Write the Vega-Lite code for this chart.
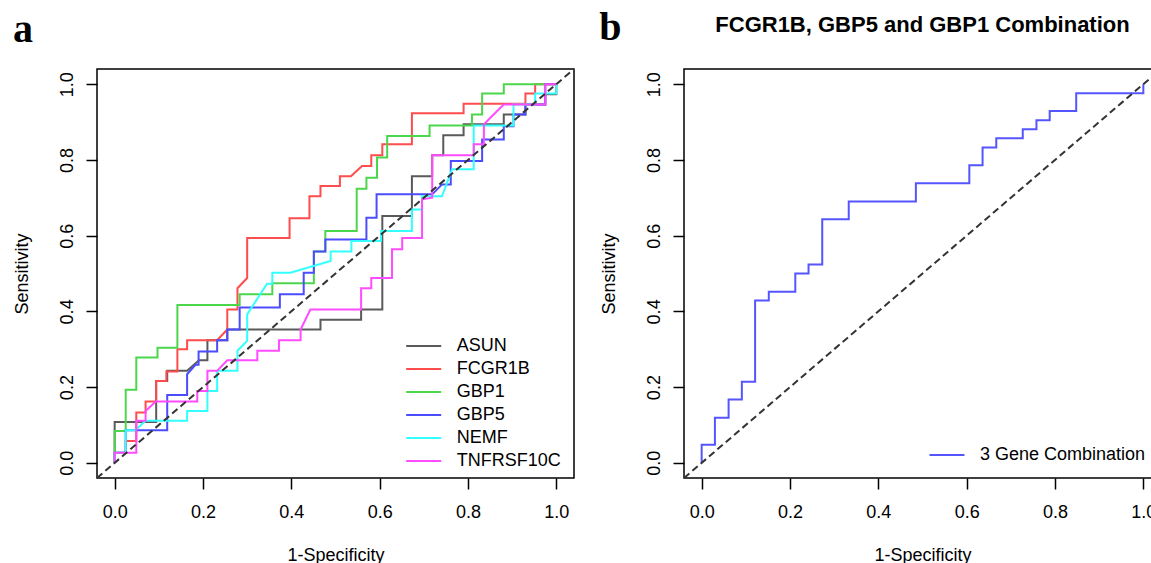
{
"$schema": "https://vega.github.io/schema/vega-lite/v6.json",
"background": "white",
"padding": {"left": 12, "top": 8, "right": 0, "bottom": 0},
"config": {
  "font": "Liberation Sans",
  "view": {"stroke": "black", "strokeWidth": 1.5},
  "axis": {"grid": false, "domain": false, "tickColor": "black", "tickWidth": 1.5, "tickSize": 11, "labelFont": "Liberation Sans", "labelFontSize": 18, "labelColor": "black", "titleFont": "Liberation Sans", "titleFontSize": 18, "titleFontWeight": "normal", "titleColor": "black", "labelOverlap": false, "labelFlush": false},
  "axisX": {"labelBaseline": "alphabetic", "labelPadding": 28, "titleBaseline": "alphabetic", "titleAlign": "center", "titleX": 238.5, "titleY": 82},
  "axisY": {"labelAngle": 270, "labelAlign": "center", "labelBaseline": "alphabetic", "labelPadding": 14, "titleAngle": 270, "titleBaseline": "alphabetic", "titleAlign": "center", "titleX": -70, "titleY": 204.5},
  "legend": {"title": null, "symbolType": "M-2.333,0H2.333", "symbolSize": 225, "symbolStrokeWidth": 2, "labelFont": "Liberation Sans", "labelFontSize": 18, "labelColor": "black", "labelBaseline": "middle", "labelLimit": 0, "padding": 0, "rowPadding": 5, "labelOffset": 24}
},
"datasets": {
  "diag": [{"x": -0.04, "y": -0.04}, {"x": 1.04, "y": 1.04}],
  "combo": [
    {"g":"3 Gene Combination","i":0,"x":0,"y":0},{"g":"3 Gene Combination","i":1,"x":0,"y":0.048},{"g":"3 Gene Combination","i":2,"x":0.03,"y":0.048},{"g":"3 Gene Combination","i":3,"x":0.03,"y":0.119},{"g":"3 Gene Combination","i":4,"x":0.061,"y":0.119},{"g":"3 Gene Combination","i":5,"x":0.061,"y":0.167},{"g":"3 Gene Combination","i":6,"x":0.091,"y":0.167},{"g":"3 Gene Combination","i":7,"x":0.091,"y":0.214},{"g":"3 Gene Combination","i":8,"x":0.121,"y":0.214},{"g":"3 Gene Combination","i":9,"x":0.121,"y":0.429},{"g":"3 Gene Combination","i":10,"x":0.152,"y":0.429},{"g":"3 Gene Combination","i":11,"x":0.152,"y":0.452},{"g":"3 Gene Combination","i":12,"x":0.212,"y":0.452},{"g":"3 Gene Combination","i":13,"x":0.212,"y":0.5},{"g":"3 Gene Combination","i":14,"x":0.242,"y":0.5},{"g":"3 Gene Combination","i":15,"x":0.242,"y":0.524},{"g":"3 Gene Combination","i":16,"x":0.273,"y":0.524},{"g":"3 Gene Combination","i":17,"x":0.273,"y":0.643},{"g":"3 Gene Combination","i":18,"x":0.333,"y":0.643},{"g":"3 Gene Combination","i":19,"x":0.333,"y":0.69},{"g":"3 Gene Combination","i":20,"x":0.485,"y":0.69},{"g":"3 Gene Combination","i":21,"x":0.485,"y":0.738},{"g":"3 Gene Combination","i":22,"x":0.606,"y":0.738},{"g":"3 Gene Combination","i":23,"x":0.606,"y":0.786},{"g":"3 Gene Combination","i":24,"x":0.636,"y":0.786},{"g":"3 Gene Combination","i":25,"x":0.636,"y":0.833},{"g":"3 Gene Combination","i":26,"x":0.667,"y":0.833},{"g":"3 Gene Combination","i":27,"x":0.667,"y":0.857},{"g":"3 Gene Combination","i":28,"x":0.727,"y":0.857},{"g":"3 Gene Combination","i":29,"x":0.727,"y":0.881},{"g":"3 Gene Combination","i":30,"x":0.758,"y":0.881},{"g":"3 Gene Combination","i":31,"x":0.758,"y":0.905},{"g":"3 Gene Combination","i":32,"x":0.788,"y":0.905},{"g":"3 Gene Combination","i":33,"x":0.788,"y":0.929},{"g":"3 Gene Combination","i":34,"x":0.848,"y":0.929},{"g":"3 Gene Combination","i":35,"x":0.848,"y":0.976},{"g":"3 Gene Combination","i":36,"x":1,"y":0.976},{"g":"3 Gene Combination","i":37,"x":1,"y":1}
  ],
  "genes": [
    {"g":"ASUN","i":0,"x":0,"y":0},{"g":"ASUN","i":1,"x":0,"y":0.108},{"g":"ASUN","i":2,"x":0.094,"y":0.108},{"g":"ASUN","i":3,"x":0.094,"y":0.216},{"g":"ASUN","i":4,"x":0.119,"y":0.216},{"g":"ASUN","i":5,"x":0.119,"y":0.243},{"g":"ASUN","i":6,"x":0.164,"y":0.243},{"g":"ASUN","i":7,"x":0.191,"y":0.271},{"g":"ASUN","i":8,"x":0.21,"y":0.271},{"g":"ASUN","i":9,"x":0.21,"y":0.324},{"g":"ASUN","i":10,"x":0.255,"y":0.324},{"g":"ASUN","i":11,"x":0.255,"y":0.352},{"g":"ASUN","i":12,"x":0.466,"y":0.352},{"g":"ASUN","i":13,"x":0.466,"y":0.378},{"g":"ASUN","i":14,"x":0.558,"y":0.378},{"g":"ASUN","i":15,"x":0.558,"y":0.405},{"g":"ASUN","i":16,"x":0.606,"y":0.405},{"g":"ASUN","i":17,"x":0.606,"y":0.652},{"g":"ASUN","i":18,"x":0.673,"y":0.652},{"g":"ASUN","i":19,"x":0.673,"y":0.757},{"g":"ASUN","i":20,"x":0.719,"y":0.757},{"g":"ASUN","i":21,"x":0.719,"y":0.812},{"g":"ASUN","i":22,"x":0.744,"y":0.812},{"g":"ASUN","i":23,"x":0.744,"y":0.865},{"g":"ASUN","i":24,"x":0.79,"y":0.865},{"g":"ASUN","i":25,"x":0.79,"y":0.894},{"g":"ASUN","i":26,"x":0.881,"y":0.894},{"g":"ASUN","i":27,"x":0.881,"y":0.92},{"g":"ASUN","i":28,"x":0.93,"y":0.92},{"g":"ASUN","i":29,"x":0.93,"y":0.946},{"g":"ASUN","i":30,"x":0.975,"y":0.946},{"g":"ASUN","i":31,"x":0.975,"y":0.973},{"g":"ASUN","i":32,"x":1,"y":0.973},{"g":"ASUN","i":33,"x":1,"y":1},
    {"g":"FCGR1B","i":0,"x":0,"y":0},{"g":"FCGR1B","i":1,"x":0,"y":0.027},{"g":"FCGR1B","i":2,"x":0.025,"y":0.027},{"g":"FCGR1B","i":3,"x":0.025,"y":0.058},{"g":"FCGR1B","i":4,"x":0.049,"y":0.058},{"g":"FCGR1B","i":5,"x":0.049,"y":0.133},{"g":"FCGR1B","i":6,"x":0.07,"y":0.133},{"g":"FCGR1B","i":7,"x":0.07,"y":0.162},{"g":"FCGR1B","i":8,"x":0.094,"y":0.162},{"g":"FCGR1B","i":9,"x":0.094,"y":0.216},{"g":"FCGR1B","i":10,"x":0.117,"y":0.216},{"g":"FCGR1B","i":11,"x":0.117,"y":0.241},{"g":"FCGR1B","i":12,"x":0.142,"y":0.241},{"g":"FCGR1B","i":13,"x":0.142,"y":0.3},{"g":"FCGR1B","i":14,"x":0.164,"y":0.3},{"g":"FCGR1B","i":15,"x":0.164,"y":0.324},{"g":"FCGR1B","i":16,"x":0.232,"y":0.324},{"g":"FCGR1B","i":17,"x":0.255,"y":0.352},{"g":"FCGR1B","i":18,"x":0.255,"y":0.405},{"g":"FCGR1B","i":19,"x":0.278,"y":0.405},{"g":"FCGR1B","i":20,"x":0.278,"y":0.461},{"g":"FCGR1B","i":21,"x":0.3,"y":0.488},{"g":"FCGR1B","i":22,"x":0.3,"y":0.594},{"g":"FCGR1B","i":23,"x":0.396,"y":0.594},{"g":"FCGR1B","i":24,"x":0.396,"y":0.646},{"g":"FCGR1B","i":25,"x":0.441,"y":0.646},{"g":"FCGR1B","i":26,"x":0.441,"y":0.704},{"g":"FCGR1B","i":27,"x":0.466,"y":0.704},{"g":"FCGR1B","i":28,"x":0.466,"y":0.731},{"g":"FCGR1B","i":29,"x":0.51,"y":0.731},{"g":"FCGR1B","i":30,"x":0.51,"y":0.757},{"g":"FCGR1B","i":31,"x":0.535,"y":0.757},{"g":"FCGR1B","i":32,"x":0.56,"y":0.784},{"g":"FCGR1B","i":33,"x":0.581,"y":0.784},{"g":"FCGR1B","i":34,"x":0.581,"y":0.812},{"g":"FCGR1B","i":35,"x":0.606,"y":0.812},{"g":"FCGR1B","i":36,"x":0.606,"y":0.841},{"g":"FCGR1B","i":37,"x":0.673,"y":0.841},{"g":"FCGR1B","i":38,"x":0.673,"y":0.923},{"g":"FCGR1B","i":39,"x":0.79,"y":0.923},{"g":"FCGR1B","i":40,"x":0.79,"y":0.948},{"g":"FCGR1B","i":41,"x":0.93,"y":0.948},{"g":"FCGR1B","i":42,"x":0.93,"y":0.975},{"g":"FCGR1B","i":43,"x":0.952,"y":0.975},{"g":"FCGR1B","i":44,"x":0.952,"y":1},{"g":"FCGR1B","i":45,"x":1,"y":1},
    {"g":"GBP1","i":0,"x":0,"y":0},{"g":"GBP1","i":1,"x":0,"y":0.084},{"g":"GBP1","i":2,"x":0.025,"y":0.084},{"g":"GBP1","i":3,"x":0.025,"y":0.193},{"g":"GBP1","i":4,"x":0.049,"y":0.193},{"g":"GBP1","i":5,"x":0.049,"y":0.278},{"g":"GBP1","i":6,"x":0.097,"y":0.278},{"g":"GBP1","i":7,"x":0.097,"y":0.304},{"g":"GBP1","i":8,"x":0.142,"y":0.304},{"g":"GBP1","i":9,"x":0.142,"y":0.417},{"g":"GBP1","i":10,"x":0.283,"y":0.417},{"g":"GBP1","i":11,"x":0.283,"y":0.445},{"g":"GBP1","i":12,"x":0.357,"y":0.445},{"g":"GBP1","i":13,"x":0.357,"y":0.474},{"g":"GBP1","i":14,"x":0.451,"y":0.474},{"g":"GBP1","i":15,"x":0.451,"y":0.558},{"g":"GBP1","i":16,"x":0.477,"y":0.558},{"g":"GBP1","i":17,"x":0.477,"y":0.612},{"g":"GBP1","i":18,"x":0.548,"y":0.612},{"g":"GBP1","i":19,"x":0.548,"y":0.724},{"g":"GBP1","i":20,"x":0.57,"y":0.724},{"g":"GBP1","i":21,"x":0.57,"y":0.753},{"g":"GBP1","i":22,"x":0.594,"y":0.753},{"g":"GBP1","i":23,"x":0.594,"y":0.806},{"g":"GBP1","i":24,"x":0.617,"y":0.806},{"g":"GBP1","i":25,"x":0.617,"y":0.863},{"g":"GBP1","i":26,"x":0.713,"y":0.863},{"g":"GBP1","i":27,"x":0.713,"y":0.891},{"g":"GBP1","i":28,"x":0.809,"y":0.891},{"g":"GBP1","i":29,"x":0.809,"y":0.92},{"g":"GBP1","i":30,"x":0.832,"y":0.92},{"g":"GBP1","i":31,"x":0.832,"y":0.975},{"g":"GBP1","i":32,"x":0.881,"y":0.975},{"g":"GBP1","i":33,"x":0.881,"y":1},{"g":"GBP1","i":34,"x":1,"y":1},
    {"g":"GBP5","i":0,"x":0,"y":0},{"g":"GBP5","i":1,"x":0,"y":0.027},{"g":"GBP5","i":2,"x":0.025,"y":0.027},{"g":"GBP5","i":3,"x":0.025,"y":0.086},{"g":"GBP5","i":4,"x":0.119,"y":0.086},{"g":"GBP5","i":5,"x":0.119,"y":0.179},{"g":"GBP5","i":6,"x":0.164,"y":0.179},{"g":"GBP5","i":7,"x":0.164,"y":0.234},{"g":"GBP5","i":8,"x":0.183,"y":0.259},{"g":"GBP5","i":9,"x":0.19,"y":0.259},{"g":"GBP5","i":10,"x":0.19,"y":0.294},{"g":"GBP5","i":11,"x":0.232,"y":0.294},{"g":"GBP5","i":12,"x":0.232,"y":0.324},{"g":"GBP5","i":13,"x":0.255,"y":0.324},{"g":"GBP5","i":14,"x":0.255,"y":0.352},{"g":"GBP5","i":15,"x":0.283,"y":0.352},{"g":"GBP5","i":16,"x":0.283,"y":0.41},{"g":"GBP5","i":17,"x":0.374,"y":0.41},{"g":"GBP5","i":18,"x":0.374,"y":0.445},{"g":"GBP5","i":19,"x":0.428,"y":0.445},{"g":"GBP5","i":20,"x":0.428,"y":0.502},{"g":"GBP5","i":21,"x":0.451,"y":0.502},{"g":"GBP5","i":22,"x":0.451,"y":0.558},{"g":"GBP5","i":23,"x":0.477,"y":0.558},{"g":"GBP5","i":24,"x":0.477,"y":0.59},{"g":"GBP5","i":25,"x":0.57,"y":0.59},{"g":"GBP5","i":26,"x":0.57,"y":0.647},{"g":"GBP5","i":27,"x":0.593,"y":0.647},{"g":"GBP5","i":28,"x":0.593,"y":0.709},{"g":"GBP5","i":29,"x":0.719,"y":0.709},{"g":"GBP5","i":30,"x":0.741,"y":0.735},{"g":"GBP5","i":31,"x":0.761,"y":0.735},{"g":"GBP5","i":32,"x":0.761,"y":0.797},{"g":"GBP5","i":33,"x":0.832,"y":0.797},{"g":"GBP5","i":34,"x":0.832,"y":0.854},{"g":"GBP5","i":35,"x":0.881,"y":0.854},{"g":"GBP5","i":36,"x":0.881,"y":0.889},{"g":"GBP5","i":37,"x":0.903,"y":0.889},{"g":"GBP5","i":38,"x":0.903,"y":0.92},{"g":"GBP5","i":39,"x":0.93,"y":0.92},{"g":"GBP5","i":40,"x":0.93,"y":0.946},{"g":"GBP5","i":41,"x":0.975,"y":0.946},{"g":"GBP5","i":42,"x":0.975,"y":1},{"g":"GBP5","i":43,"x":1,"y":1},
    {"g":"NEMF","i":0,"x":0,"y":0},{"g":"NEMF","i":1,"x":0,"y":0.027},{"g":"NEMF","i":2,"x":0.025,"y":0.027},{"g":"NEMF","i":3,"x":0.025,"y":0.086},{"g":"NEMF","i":4,"x":0.047,"y":0.086},{"g":"NEMF","i":5,"x":0.07,"y":0.111},{"g":"NEMF","i":6,"x":0.164,"y":0.111},{"g":"NEMF","i":7,"x":0.164,"y":0.137},{"g":"NEMF","i":8,"x":0.21,"y":0.137},{"g":"NEMF","i":9,"x":0.21,"y":0.19},{"g":"NEMF","i":10,"x":0.232,"y":0.19},{"g":"NEMF","i":11,"x":0.232,"y":0.243},{"g":"NEMF","i":12,"x":0.278,"y":0.243},{"g":"NEMF","i":13,"x":0.278,"y":0.296},{"g":"NEMF","i":14,"x":0.3,"y":0.322},{"g":"NEMF","i":15,"x":0.3,"y":0.392},{"g":"NEMF","i":16,"x":0.345,"y":0.473},{"g":"NEMF","i":17,"x":0.357,"y":0.473},{"g":"NEMF","i":18,"x":0.357,"y":0.502},{"g":"NEMF","i":19,"x":0.398,"y":0.502},{"g":"NEMF","i":20,"x":0.489,"y":0.533},{"g":"NEMF","i":21,"x":0.489,"y":0.558},{"g":"NEMF","i":22,"x":0.536,"y":0.558},{"g":"NEMF","i":23,"x":0.536,"y":0.586},{"g":"NEMF","i":24,"x":0.603,"y":0.586},{"g":"NEMF","i":25,"x":0.603,"y":0.612},{"g":"NEMF","i":26,"x":0.673,"y":0.612},{"g":"NEMF","i":27,"x":0.673,"y":0.669},{"g":"NEMF","i":28,"x":0.696,"y":0.669},{"g":"NEMF","i":29,"x":0.696,"y":0.704},{"g":"NEMF","i":30,"x":0.741,"y":0.704},{"g":"NEMF","i":31,"x":0.764,"y":0.775},{"g":"NEMF","i":32,"x":0.813,"y":0.775},{"g":"NEMF","i":33,"x":0.813,"y":0.891},{"g":"NEMF","i":34,"x":0.903,"y":0.891},{"g":"NEMF","i":35,"x":0.903,"y":0.946},{"g":"NEMF","i":36,"x":0.952,"y":0.946},{"g":"NEMF","i":37,"x":0.952,"y":0.975},{"g":"NEMF","i":38,"x":1,"y":0.975},{"g":"NEMF","i":39,"x":1,"y":1},
    {"g":"TNFRSF10C","i":0,"x":0,"y":0},{"g":"TNFRSF10C","i":1,"x":0,"y":0.027},{"g":"TNFRSF10C","i":2,"x":0.049,"y":0.027},{"g":"TNFRSF10C","i":3,"x":0.049,"y":0.111},{"g":"TNFRSF10C","i":4,"x":0.07,"y":0.111},{"g":"TNFRSF10C","i":5,"x":0.07,"y":0.137},{"g":"TNFRSF10C","i":6,"x":0.093,"y":0.162},{"g":"TNFRSF10C","i":7,"x":0.187,"y":0.162},{"g":"TNFRSF10C","i":8,"x":0.187,"y":0.19},{"g":"TNFRSF10C","i":9,"x":0.21,"y":0.19},{"g":"TNFRSF10C","i":10,"x":0.21,"y":0.243},{"g":"TNFRSF10C","i":11,"x":0.232,"y":0.243},{"g":"TNFRSF10C","i":12,"x":0.255,"y":0.271},{"g":"TNFRSF10C","i":13,"x":0.323,"y":0.271},{"g":"TNFRSF10C","i":14,"x":0.323,"y":0.296},{"g":"TNFRSF10C","i":15,"x":0.372,"y":0.296},{"g":"TNFRSF10C","i":16,"x":0.372,"y":0.324},{"g":"TNFRSF10C","i":17,"x":0.421,"y":0.324},{"g":"TNFRSF10C","i":18,"x":0.421,"y":0.352},{"g":"TNFRSF10C","i":19,"x":0.443,"y":0.405},{"g":"TNFRSF10C","i":20,"x":0.558,"y":0.405},{"g":"TNFRSF10C","i":21,"x":0.558,"y":0.461},{"g":"TNFRSF10C","i":22,"x":0.581,"y":0.461},{"g":"TNFRSF10C","i":23,"x":0.581,"y":0.488},{"g":"TNFRSF10C","i":24,"x":0.628,"y":0.488},{"g":"TNFRSF10C","i":25,"x":0.628,"y":0.564},{"g":"TNFRSF10C","i":26,"x":0.651,"y":0.564},{"g":"TNFRSF10C","i":27,"x":0.651,"y":0.594},{"g":"TNFRSF10C","i":28,"x":0.696,"y":0.594},{"g":"TNFRSF10C","i":29,"x":0.696,"y":0.696},{"g":"TNFRSF10C","i":30,"x":0.719,"y":0.7},{"g":"TNFRSF10C","i":31,"x":0.719,"y":0.812},{"g":"TNFRSF10C","i":32,"x":0.813,"y":0.812},{"g":"TNFRSF10C","i":33,"x":0.813,"y":0.841},{"g":"TNFRSF10C","i":34,"x":0.836,"y":0.841},{"g":"TNFRSF10C","i":35,"x":0.836,"y":0.894},{"g":"TNFRSF10C","i":36,"x":0.858,"y":0.92},{"g":"TNFRSF10C","i":37,"x":0.881,"y":0.946},{"g":"TNFRSF10C","i":38,"x":0.975,"y":0.946},{"g":"TNFRSF10C","i":39,"x":0.975,"y":1},{"g":"TNFRSF10C","i":40,"x":1,"y":1}
  ]
},
"hconcat": [
  {
    "width": 477, "height": 409,
    "title": {"text": "a", "anchor": "start", "frame": "bounds", "font": "Liberation Serif", "fontSize": 40, "fontWeight": "bold", "color": "black", "baseline": "alphabetic", "offset": -13},
    "layer": [
      {
        "data": {"name": "genes"},
        "mark": {"type": "line", "strokeWidth": 2, "clip": true},
        "encoding": {
          "x": {"field": "x", "type": "quantitative", "scale": {"domain": [-0.04, 1.04], "nice": false, "zero": false}, "axis": {"title": "1-Specificity", "values": [0, 0.2, 0.4, 0.6, 0.8, 1], "format": ".1f"}},
          "y": {"field": "y", "type": "quantitative", "scale": {"domain": [-0.04, 1.04], "nice": false, "zero": false}, "axis": {"title": "Sensitivity", "values": [0, 0.2, 0.4, 0.6, 0.8, 1], "format": ".1f"}},
          "color": {"field": "g", "type": "nominal", "sort": ["ASUN", "FCGR1B", "GBP1", "GBP5", "NEMF", "TNFRSF10C"], "scale": {"domain": ["ASUN", "FCGR1B", "GBP1", "GBP5", "NEMF", "TNFRSF10C"], "range": ["#5a5a5a", "#ff4c4c", "#4cd64c", "#4c4cff", "#33ffff", "#ff4cff"]}, "legend": {"orient": "none", "legendX": 317.7, "legendY": 268}},
          "order": {"field": "i", "type": "quantitative"}
        }
      },
      {
        "data": {"name": "diag"},
        "mark": {"type": "line", "color": "#333333", "strokeDash": [7, 4], "strokeWidth": 2, "clip": true},
        "encoding": {"x": {"field": "x", "type": "quantitative"}, "y": {"field": "y", "type": "quantitative"}}
      }
    ]
  },
  {
    "title": {"text": "b", "anchor": "start", "frame": "bounds", "font": "Liberation Serif", "fontSize": 40, "fontWeight": "bold", "color": "black", "baseline": "alphabetic", "offset": -67},
    "vconcat": [
      {
        "width": 477, "height": 409,
        "title": {"text": "FCGR1B, GBP5 and GBP1 Combination", "anchor": "middle", "frame": "group", "font": "Liberation Sans", "fontSize": 22, "fontWeight": "bold", "color": "black", "baseline": "alphabetic", "offset": 15},
        "layer": [
          {
            "data": {"name": "combo"},
            "mark": {"type": "line", "strokeWidth": 2, "clip": true},
            "encoding": {
              "x": {"field": "x", "type": "quantitative", "scale": {"domain": [-0.04, 1.04], "nice": false, "zero": false}, "axis": {"title": "1-Specificity", "values": [0, 0.2, 0.4, 0.6, 0.8, 1], "format": ".1f"}},
              "y": {"field": "y", "type": "quantitative", "scale": {"domain": [-0.04, 1.04], "nice": false, "zero": false}, "axis": {"title": "Sensitivity", "values": [0, 0.2, 0.4, 0.6, 0.8, 1], "format": ".1f"}},
              "color": {"field": "g", "type": "nominal", "scale": {"domain": ["3 Gene Combination"], "range": ["#5555ff"]}, "legend": {"orient": "none", "legendX": 254, "legendY": 377}},
              "order": {"field": "i", "type": "quantitative"}
            }
          },
          {
            "data": {"name": "diag"},
            "mark": {"type": "line", "color": "#333333", "strokeDash": [7, 4], "strokeWidth": 2, "clip": true},
            "encoding": {"x": {"field": "x", "type": "quantitative"}, "y": {"field": "y", "type": "quantitative"}}
          }
        ]
      }
    ]
  }
],
"spacing": 110,
"bounds": "flush",
"resolve": {"scale": {"color": "independent"}, "legend": {"color": "independent"}}
}
